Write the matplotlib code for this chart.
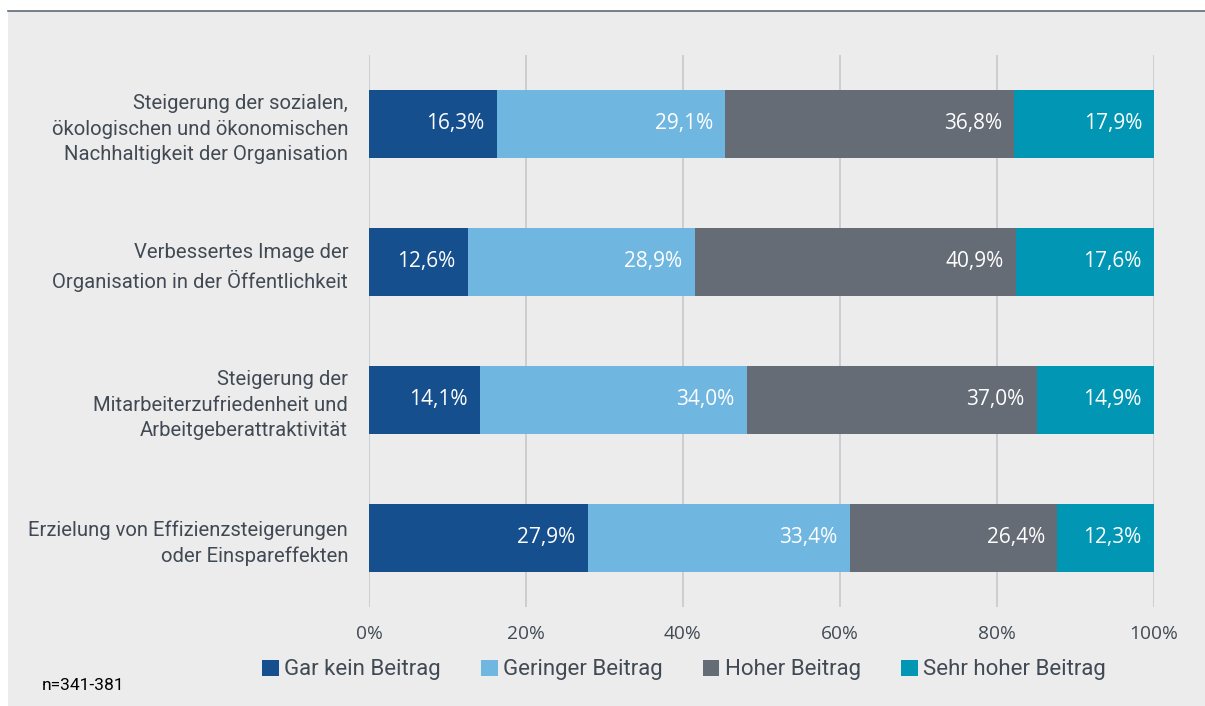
import matplotlib.pyplot as plt
from matplotlib.patches import Rectangle
from matplotlib.lines import Line2D

categories = [
    "Steigerung der sozialen,\nökologischen und ökonomischen\nNachhaltigkeit der Organisation",
    "Verbessertes Image der\nOrganisation in der Öffentlichkeit",
    "Steigerung der\nMitarbeiterzufriedenheit und\nArbeitgeberattraktivität",
    "Erzielung von Effizienzsteigerungen\noder Einspareffekten",
]
series_names = ["Gar kein Beitrag", "Geringer Beitrag", "Hoher Beitrag", "Sehr hoher Beitrag"]
gar_kein = [16.3, 12.6, 14.1, 27.9]
gering = [29.1, 28.9, 34.0, 33.4]
hoch = [36.8, 40.9, 37.0, 26.4]
sehr_hoch = [17.9, 17.6, 14.9, 12.3]
xticks = [0, 20, 40, 60, 80, 100]
note = "n=341-381"

colors = ["#154f8e", "#6fb6e0", "#656c75", "#0096b4"]
bg = "#ececec"
text_col = "#414a54"
label_font = ["Roboto", "DejaVu Sans"]

plt.rcParams["font.family"] = ["Open Sans", "DejaVu Sans"]

W, H = 1205, 706
fig = plt.figure(figsize=(W / 100, H / 100), dpi=100)
fig.patch.set_facecolor("white")
fig.patches.append(Rectangle((8 / W, 0), 1 - 8 / W, 1 - 11 / H, transform=fig.transFigure,
                             facecolor=bg, edgecolor="none", zorder=-10))
fig.lines.append(Line2D([8 / W, 1], [1 - 10.5 / H, 1 - 10.5 / H], transform=fig.transFigure,
                        color="#5f6b78", linewidth=1.2, zorder=-9))

ax = fig.add_axes([369 / W, 1 - 607 / H, (1154 - 369) / W, (607 - 55) / H])
ax.set_facecolor("none")

ypos = list(range(len(categories)))
left = [0.0] * len(categories)
for vals, name, col in zip([gar_kein, gering, hoch, sehr_hoch], series_names, colors):
    ax.barh(ypos, vals, left=left, height=0.49, color=col, label=name, zorder=2)
    for y, l, v in zip(ypos, left, vals):
        ax.text(l + v - 1.6, y, f"{v:.1f}%".replace(".", ","), ha="right", va="center",
                color="white", fontsize=15, zorder=3)
    left = [a + b for a, b in zip(left, vals)]

ax.set_xlim(0, 100)
ax.set_ylim(len(categories) - 0.5, -0.5)
ax.set_xticks(xticks)
ax.set_xticklabels([f"{t}%" for t in xticks], color=text_col, fontsize=13.8)
ax.set_yticks(ypos)
ax.set_yticklabels(categories, color=text_col, fontsize=14.6, linespacing=1.42,
                   family=label_font)
ax.tick_params(axis="x", length=0, pad=13)
ax.tick_params(axis="y", length=0, pad=15)
ax.grid(axis="x", color="#c6c9cc", linewidth=1.2, zorder=1)
for s in ax.spines.values():
    s.set_visible(False)

fig.legend(loc="center", bbox_to_anchor=(684 / W, 1 - 670 / H), ncol=4, frameon=False,
           prop={"family": label_font, "size": 16},
           handlelength=0.75, handleheight=0.75, handletextpad=0.25,
           columnspacing=1.8, labelcolor=text_col)

fig.text(42 / W, 1 - 686 / H, note, fontsize=12.5, color="black", va="center", ha="left",
         family=label_font)

fig.savefig("out.png", dpi=100)
